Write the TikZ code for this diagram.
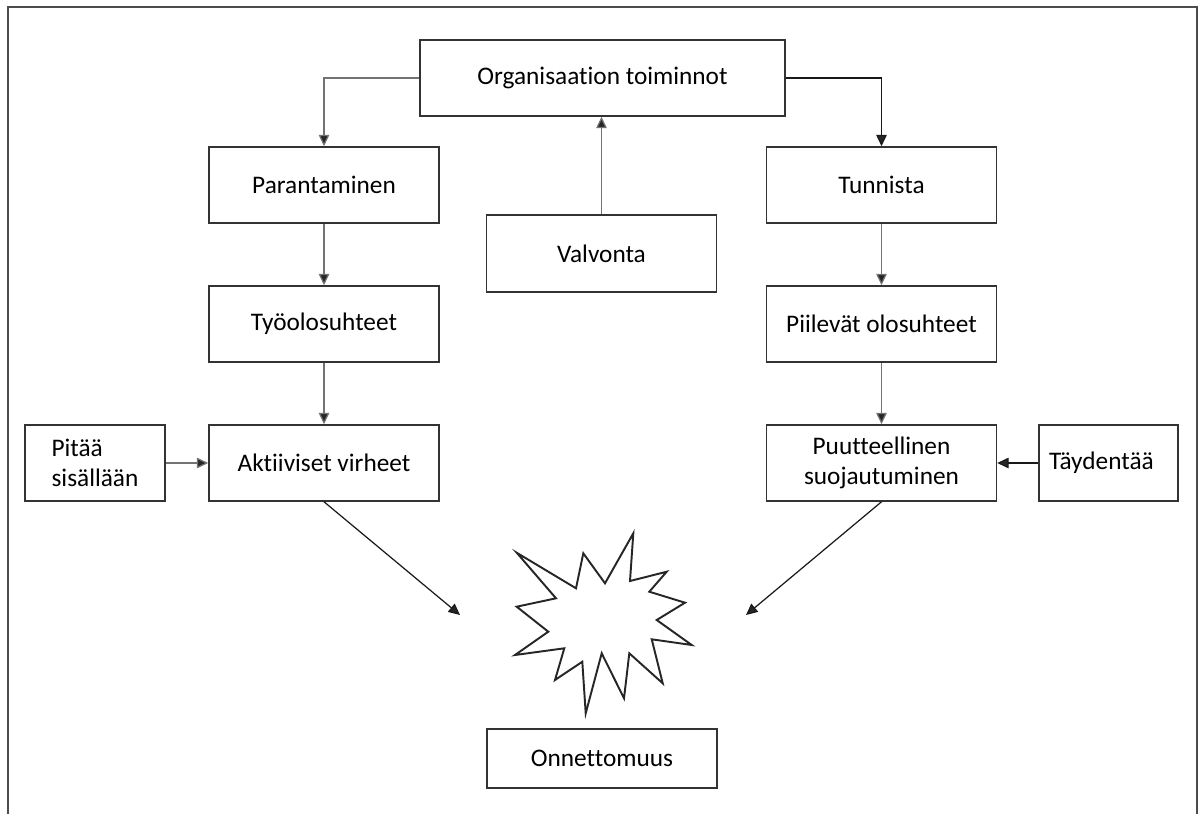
\documentclass[tikz,border=0pt]{standalone}
\usepackage{fontspec}
\setmainfont{Carlito}[Ligatures={NoCommon}]
\usepackage{tikz}
\usetikzlibrary{calc,arrows.meta}

\begin{document}
\begin{tikzpicture}[x=0.02cm,y=-0.02cm,
    box/.style={draw=black!80,line width=0.9pt,fill=white,minimum width=4.6cm,
      minimum height=1.52cm,align=center,inner sep=2pt,
      font=\fontsize{14.4}{17.5}\selectfont},
    arr/.style={draw=black!55,line width=0.7pt,-{Triangle[length=6.5pt,width=6pt,fill=black!85]}},
    darr/.style={arr,draw=black!90}]
  \useasboundingbox (0,0) rectangle (1203,814);
  % frame, open at the bottom
  \draw[black!70,line width=1pt] (8,814) -- (8,7) -- (1197,7) -- (1197,814);

  \node[box,minimum width=7.3cm] (org) at (602.5,78) {Organisaation toiminnot};
  \node[box] (paran) at (324,185) {Parantaminen};
  \node[box] (tunn) at (881.5,185) {Tunnista};
  \node[box,minimum height=1.54cm] (valv) at (601.5,253.5) {Valvonta};
  \node[box] (tyoo) at (324,324) {Työolosuhteet};
  \node[box] (piil) at (881.5,324) {Piilevät olosuhteet};
  \node[box] (akti) at (324,463) {Aktiiviset virheet};
  \node[box] (puut) at (881.5,463) {Puutteellinen\\suojautuminen};
  \node[box,minimum width=2.8cm,align=left] (pita) at (95,463) {Pitää\\sisällään};
  \node[box,minimum width=2.78cm] (tayd) at (1108.5,463) {Täydentää\hspace{8pt}};
  \node[box,minimum height=1.18cm] (onne) at (602,758.5) {Onnettomuus};

  \coordinate (hitl) at (460,615);
  \coordinate (hitr) at (746,615);

  \draw[arr] (org.west) -| (paran.north);
  \draw[darr] (org.east) -| (tunn.north);
  \draw[arr] (valv.north) -- (valv.north |- org.south);
  \draw[arr] (paran) to (tyoo); \draw[arr] (tyoo) to (akti);
  \draw[arr] (tunn) to (piil); \draw[arr] (piil) to (puut);
  \draw[arr] (pita) to (akti); \draw[darr] (tayd) to (puut);
  \draw[darr] (akti.south) -- (hitl);
  \draw[darr] (puut.south) -- (hitr);

  % the accident burst
  \draw[black!85,line width=1.1pt,line join=miter] (633.3,533.3) -- (605,583.3) -- (583.3,553.3) -- (576,588.3)
    -- (516.7,552.7) -- (556,598.3) -- (516.7,606.7) -- (548.3,631.7)
    -- (515,655) -- (564.3,648.3) -- (555,680) -- (582.3,661.7)
    -- (585.7,713.3) -- (601.7,653.3) -- (624,698.3) -- (629.3,653.3)
    -- (662.7,683.3) -- (651.7,639.3) -- (691.7,645) -- (656.7,620)
    -- (685,602.7) -- (649.3,591.7) -- (666.7,571.7) -- (630,581) -- cycle;
\end{tikzpicture}
\end{document}
